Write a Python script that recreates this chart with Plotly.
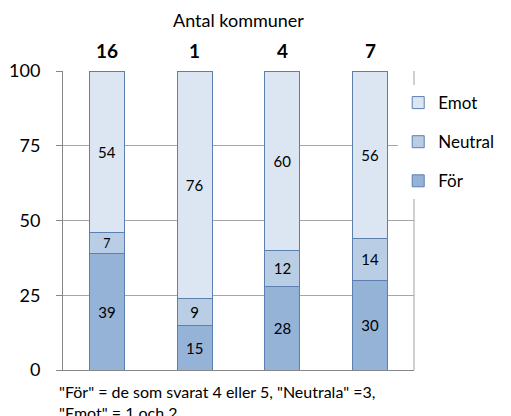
import plotly.graph_objects as go

categories = [0, 1, 2, 3]
antal_kommuner = ["16", "1", "4", "7"]
for_vals = [39, 15, 28, 30]
neutral_vals = [7, 9, 12, 14]
emot_vals = [54, 76, 60, 56]
y_ticks = [0, 25, 50, 75, 100]

FONT = "Lato, 'Open Sans', sans-serif"
border = "#5B7FAF"

series = [
    ("För", for_vals, "#95B3D7", 3),
    ("Neutral", neutral_vals, "#B9CDE5", 2),
    ("Emot", emot_vals, "#DCE6F2", 1),
]

fig = go.Figure()
for name, vals, col, rank in series:
    fig.add_trace(go.Bar(
        x=categories, y=vals, name=name, legendgroup=name, legendrank=rank,
        marker=dict(color=col, line=dict(color=border, width=1)),
        texttemplate="%{y}", textposition="inside", insidetextanchor="middle",
        textangle=0, textfont=dict(size=15, color="black", family=FONT),
        hoverinfo="skip",
    ))

annotations = []
for c, lab in zip(categories, antal_kommuner):
    annotations.append(dict(x=c, y=1, xref="x", yref="paper", text="<b>%s</b>" % lab,
                            showarrow=False, yanchor="middle", yshift=21,
                            font=dict(size=19, color="black", family=FONT)))
annotations.append(dict(x=0.5, y=1, xref="paper", yref="paper", text="Antal kommuner",
                        showarrow=False, yanchor="middle", yshift=51,
                        font=dict(size=18, color="black", family=FONT)))
annotations.append(dict(x=-0.017, y=0, xref="paper", yref="paper",
                        text='"För" = de som svarat 4 eller 5, "Neutrala" =3,<br>"Emot" = 1 och 2',
                        showarrow=False, xanchor="left", yanchor="top", yshift=-10, align="left",
                        font=dict(size=16, color="black", family=FONT)))

fig.update_layout(
    width=503, height=408,
    margin=dict(l=55, r=91, t=63, b=46),
    barmode="stack", bargap=0.6,
    plot_bgcolor="white", paper_bgcolor="white",
    font=dict(family=FONT, color="black"),
    showlegend=True,
    legend=dict(x=0.955, xanchor="left", y=0.953, yanchor="top",
                traceorder="grouped", tracegroupgap=14,
                bgcolor="white", font=dict(size=17, color="black", family=FONT)),
    xaxis=dict(range=[-0.5, 3.5], showticklabels=False, showgrid=False, zeroline=False,
               showline=True, linecolor="#868686", linewidth=1, ticks="", automargin=False),
    yaxis=dict(range=[0, 100], tickvals=y_ticks, ticks="outside", ticklen=6,
               tickcolor="#868686", showgrid=True, gridcolor="#A6A6A6", zeroline=False,
               showline=True, linecolor="#868686", linewidth=1, automargin=False,
               ticklabelstandoff=12, tickfont=dict(size=18, color="black", family=FONT)),
    annotations=annotations,
    shapes=[dict(type="line", xref="paper", yref="paper", x0=1, x1=1, y0=0, y1=1,
                 line=dict(color="#D0D0D0", width=2), layer="below")],
)

fig.write_html("out.html")
